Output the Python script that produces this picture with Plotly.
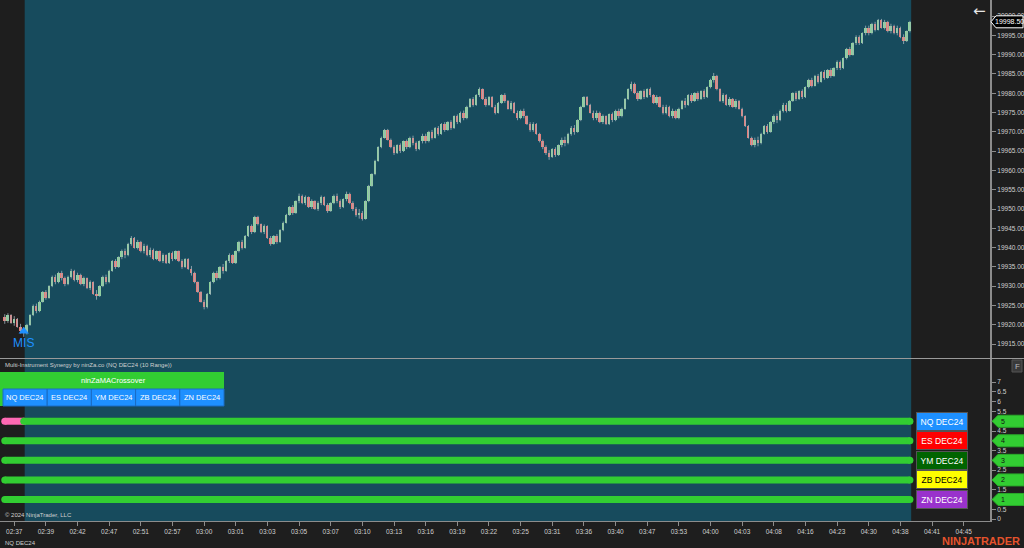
import plotly.graph_objects as go

# ---------------- data ----------------
closes = [
    19921, 19922.5, 19920.5, 19921.5, 19919.5, 19918.5, 19917.75, 19920, 19922.5, 19925,
    19923.5, 19926, 19928.5, 19927, 19930, 19932.5, 19931, 19933.5, 19932, 19930.5,
    19932.5, 19934, 19931.5, 19933, 19930.5, 19932, 19929.5, 19931, 19928, 19927.5,
    19930, 19932.5, 19931, 19934, 19936.5, 19935, 19937.5, 19939, 19938, 19941,
    19942.5, 19940, 19941.5, 19939, 19940.5, 19938, 19939.5, 19937, 19939, 19936.5,
    19938, 19936, 19938.5, 19937, 19939, 19936.5, 19935, 19937, 19934.5, 19933.5,
    19931, 19928.5, 19926, 19924.5, 19928, 19931, 19933.5, 19932, 19935, 19934,
    19936.5, 19938, 19936, 19939, 19941.5, 19940, 19943, 19945.5, 19944, 19948,
    19946, 19944, 19945.5, 19942.5, 19941, 19943, 19941.5, 19944.5, 19946.5, 19948.5,
    19950.5, 19949, 19952, 19953.5, 19951.5, 19953, 19950.5, 19952, 19950, 19951.5,
    19953, 19951, 19949.5, 19951.5, 19953.5, 19952, 19950.5, 19952.5, 19954, 19951.5,
    19950, 19948.5, 19949, 19947.5, 19952, 19956, 19959, 19962.5, 19966, 19968.5,
    19970.5, 19968, 19966, 19964.5, 19966.5, 19965, 19967.5, 19966, 19968.5, 19967,
    19965.5, 19967.5, 19969, 19967.5, 19970, 19968.5, 19971, 19969.5, 19972, 19970.5,
    19972.5, 19971, 19974, 19972.5, 19975, 19973.5, 19976.5, 19978.5, 19977, 19979.5,
    19981, 19978.5, 19977, 19979, 19976.5, 19975, 19977.5, 19979.5, 19978, 19976,
    19977.5, 19975, 19973.5, 19975.5, 19974, 19972, 19970.5, 19972, 19969.5, 19967.5,
    19966, 19964.5, 19963.5, 19965.5, 19964, 19966.5, 19968, 19967, 19969.5, 19971,
    19970, 19973, 19976.5, 19979, 19977, 19975, 19973.5, 19975, 19972.5, 19974,
    19972, 19974.5, 19973, 19975.5, 19974, 19976, 19978.5, 19981, 19982.5, 19980,
    19978.5, 19980.5, 19979, 19981, 19979.5, 19977.5, 19979, 19976.5, 19975, 19976.5,
    19974, 19975.5, 19973.5, 19976, 19978, 19977, 19979.5, 19978, 19980, 19978.5,
    19980.5, 19979, 19981.5, 19983.5, 19984.5, 19981, 19978, 19979.5, 19977, 19978.5,
    19976.5, 19978, 19976, 19974, 19971.5, 19968.5, 19966.5, 19968, 19967, 19969.5,
    19971.5, 19970, 19972.5, 19974, 19973, 19975.5, 19977, 19975.5, 19978, 19980,
    19978.5, 19980.5, 19979, 19981.5, 19983.5, 19982, 19984.5, 19983, 19985.5, 19984,
    19986, 19984.5, 19986.5, 19988, 19986.5, 19989, 19991.5, 19990, 19993, 19994.5,
    19993, 19995.5, 19997, 19995.5, 19998, 19996.5, 19999, 19997, 19998.5, 19996,
    19997.5, 19995.5, 19997, 19994.5, 19993.5, 19996, 19998.5,
]
first_open = 19922.0
bar_range = 2.5  # 10-tick range bars (NQ tick = 0.25)

time_labels = ["02:37", "02:39", "02:42", "02:47", "02:51", "02:57", "03:00", "03:01",
               "03:03", "03:05", "03:07", "03:10", "03:13", "03:16", "03:19", "03:22",
               "03:25", "03:31", "03:36", "03:40", "03:47", "03:53", "04:00", "04:03",
               "04:08", "04:16", "04:23", "04:30", "04:38", "04:41", "04:45"]
time_label_idx = [3 + 10 * k for k in range(len(time_labels))]

price_ticks = [19915 + 5 * k for k in range(18)]
panel_ticks = [0.5 * k for k in range(15)]

instruments = ["NQ DEC24", "ES DEC24", "YM DEC24", "ZB DEC24", "ZN DEC24"]
levels = [5, 4, 3, 2, 1]
inst_colors = ["#1e90ff", "#ff0000", "#006400", "#ffff00", "#9932cc"]
inst_text_colors = ["white", "white", "white", "black", "white"]
pink_until_bar = 6       # first bars of the NQ line are pink (bearish state)

signal_idx = [6]
signal_price = [19918.3]
signal_text = ["MIS"]

session_start, session_end = 6.3, 286.4

# ---------------- derived bars ----------------
n = len(closes)
idx = list(range(n))
opens = [first_open] + closes[:-1]
highs, lows = [], []
for o, c in zip(opens, closes):
    lo, hi = min(o, c), max(o, c)
    extra = max(bar_range - (hi - lo), 0.5)
    highs.append(hi + extra / 2)
    lows.append(lo - extra / 2)

# ---------------- geometry helpers ----------------
PW, PH = 990, 521  # plot area pixels (margin l=0, r=34, t=0, b=27)


def pxx(x):
    return x / PW


def pxy(y):
    return (PH - y) / PH


BG = "#1e1e1e"
TEAL = "#174b5d"
AXIS = "#8c8c8c"
TXT = "#d0d0d0"
FONT = "Liberation Sans Narrow, Liberation Sans, Arial, sans-serif"

fig = go.Figure()

# wicks
wx, wy = [], []
for i in idx:
    wx += [i, i, None]
    wy += [lows[i], highs[i], None]
fig.add_trace(go.Scatter(x=wx, y=wy, mode="lines", line=dict(color="rgba(160,178,188,0.8)", width=1),
                         hoverinfo="skip", showlegend=False, xaxis="x", yaxis="y"))
# bodies
body_base = [min(o, c) for o, c in zip(opens, closes)]
body_h = [max(abs(c - o), 0.3) for o, c in zip(opens, closes)]
body_col = ["#8fd49c" if c >= o else "#e77c78" for o, c in zip(opens, closes)]
fig.add_trace(go.Bar(x=idx, y=body_h, base=body_base, width=0.62, marker=dict(color=body_col, line=dict(width=0)),
                     hoverinfo="skip", showlegend=False, xaxis="x", yaxis="y"))

# signal
fig.add_trace(go.Scatter(x=signal_idx, y=signal_price, mode="markers+text", text=signal_text,
                         textposition="bottom center",
                         textfont=dict(color="#1e90ff", size=12, family="Liberation Sans, Arial"),
                         marker=dict(symbol="triangle-up", size=9, color="#1e90ff"),
                         hoverinfo="skip", showlegend=False, xaxis="x", yaxis="y"))

# lower panel lines
for k, (name, lvl) in enumerate(zip(instruments, levels)):
    start = pink_until_bar if k == 0 else 0
    if k == 0:
        fig.add_trace(go.Scatter(x=[0, pink_until_bar], y=[lvl, lvl], mode="lines+markers",
                                 line=dict(color="#ff69b4", width=7), marker=dict(size=7, color="#ff69b4"),
                                 hoverinfo="skip", showlegend=False, xaxis="x2", yaxis="y2"))
    fig.add_trace(go.Scatter(x=[start, n - 1], y=[lvl, lvl], mode="lines+markers",
                             line=dict(color="#32cd32", width=7), marker=dict(size=7, color="#32cd32"),
                             hoverinfo="skip", showlegend=False, xaxis="x2", yaxis="y2"))

shapes = []
annotations = []

# teal session background
shapes.append(dict(type="rect", xref="x", yref="paper", x0=session_start, x1=session_end, y0=0, y1=1,
                   fillcolor=TEAL, line=dict(width=0), layer="below"))
# panel separator
shapes.append(dict(type="line", xref="paper", yref="paper", x0=0, x1=1.0343, y0=pxy(358.5), y1=pxy(358.5),
                   line=dict(color="#9a9a9a", width=1)))

# price flag (last close)
last = closes[-1]
h_pts = 6 * (20004.15 - 19911.4) / 358
shapes.append(dict(type="path", xref="paper", yref="y",
                   path=f"M {pxx(991)},{last} L {pxx(996)},{last + h_pts} L {pxx(1023)},{last + h_pts} "
                        f"L {pxx(1023)},{last - h_pts} L {pxx(996)},{last - h_pts} Z",
                   fillcolor="black", line=dict(color="white", width=1), layer="above"))
annotations.append(dict(xref="paper", yref="y", x=pxx(1009.5), y=last, text=f"{last:.2f}", showarrow=False,
                        font=dict(color="white", size=7, family=FONT), xanchor="center", yanchor="middle"))

# right flags in lower panel
h_u = 6 * 8.28 / 162
for lvl in levels:
    shapes.append(dict(type="path", xref="paper", yref="y2",
                       path=f"M {pxx(992)},{lvl} L {pxx(998)},{lvl + h_u} L {pxx(1024)},{lvl + h_u} "
                            f"L {pxx(1024)},{lvl - h_u} L {pxx(998)},{lvl - h_u} Z",
                       fillcolor="#32cd32", line=dict(color="#2aa82a", width=1), layer="above"))
    annotations.append(dict(xref="paper", yref="y2", x=pxx(999), y=lvl, text=f"{lvl}", showarrow=False,
                            font=dict(color="#111111", size=7, family=FONT), xanchor="left", yanchor="middle"))

# instrument labels
for name, lvl, col, tcol in zip(instruments, levels, inst_colors, inst_text_colors):
    annotations.append(dict(xref="paper", yref="y2", x=pxx(942), y=lvl, text=name, showarrow=False,
                            font=dict(color=tcol, size=8.5, family="Liberation Sans, Arial"),
                            bgcolor=col, bordercolor="#555555", borderwidth=1, width=48, height=15,
                            xanchor="center", yanchor="middle"))

# table
shapes.append(dict(type="rect", xref="paper", yref="paper", x0=pxx(0), x1=pxx(3), y0=pxy(406), y1=pxy(372),
                   fillcolor="#32cd32", line=dict(width=0)))
shapes.append(dict(type="rect", xref="paper", yref="paper", x0=pxx(3), x1=pxx(224), y0=pxy(389), y1=pxy(372),
                   fillcolor="#32cd32", line=dict(width=0)))
annotations.append(dict(xref="paper", yref="paper", x=pxx(113.5), y=pxy(380.5), text="ninZaMACrossover",
                        showarrow=False, font=dict(color="white", size=7.5, family="Liberation Sans, Arial"),
                        xanchor="center", yanchor="middle"))
cw = (224 - 3) / len(instruments)
for k, name in enumerate(instruments):
    x0 = 3 + k * cw
    shapes.append(dict(type="rect", xref="paper", yref="paper", x0=pxx(x0), x1=pxx(x0 + cw),
                       y0=pxy(406), y1=pxy(389), fillcolor="#1e90ff", line=dict(color="#1a6cc4", width=1)))
    annotations.append(dict(xref="paper", yref="paper", x=pxx(x0 + cw / 2), y=pxy(397.5), text=name,
                            showarrow=False, font=dict(color="white", size=7.5, family="Liberation Sans, Arial"),
                            xanchor="center", yanchor="middle"))

# F button
shapes.append(dict(type="rect", xref="paper", yref="paper", x0=pxx(1012), x1=pxx(1022), y0=pxy(372), y1=pxy(360),
                   fillcolor="#3a3a3a", line=dict(color="#555555", width=1)))
annotations.append(dict(xref="paper", yref="paper", x=pxx(1017), y=pxy(366), text="F", showarrow=False,
                        font=dict(color="#bbbbbb", size=8, family="Liberation Sans, Arial"),
                        xanchor="center", yanchor="middle"))

# texts
annotations += [
    dict(xref="paper", yref="paper", x=pxx(3), y=pxy(365), text="Multi-Instrument Synergy by ninZa.co (NQ DEC24 (10 Range))",
         showarrow=False, font=dict(color=TXT, size=6, family=FONT), xanchor="left", yanchor="middle"),
    dict(xref="paper", yref="paper", x=pxx(3), y=pxy(515), text="© 2024 NinjaTrader, LLC",
         showarrow=False, font=dict(color=TXT, size=6, family=FONT), xanchor="left", yanchor="middle"),
    dict(xref="paper", yref="paper", x=pxx(3), y=pxy(543), text="NQ DEC24",
         showarrow=False, font=dict(color=TXT, size=6, family=FONT), xanchor="left", yanchor="middle"),
    dict(xref="paper", yref="paper", x=pxx(1022), y=pxy(541), text="<b>NINJATRADER</b>",
         showarrow=False, font=dict(color="#e5532c", size=11, family="Liberation Sans, Arial"),
         xanchor="right", yanchor="middle"),
    dict(xref="paper", yref="paper", x=pxx(979), y=pxy(11), text="←",
         showarrow=False, font=dict(color="#e6e6e6", size=15, family="DejaVu Sans"),
         xanchor="center", yanchor="middle"),
]

xr = [-1.5, 311.3]
fig.update_layout(
    width=1024, height=548,
    margin=dict(l=0, r=34, t=0, b=27),
    paper_bgcolor=BG, plot_bgcolor=BG,
    barmode="overlay", bargap=0,
    showlegend=False,
    xaxis=dict(domain=[0, 1], range=xr, anchor="y", showticklabels=False, showgrid=False, zeroline=False,
               ticks="", showline=False, fixedrange=True),
    yaxis=dict(domain=[pxy(358), 1], range=[19911.4, 20004.15], side="right", anchor="x",
               tickvals=price_ticks, ticktext=[f"{v:.2f}" for v in price_ticks],
               tickfont=dict(color=TXT, size=6.5, family=FONT), ticks="outside", ticklen=4, tickcolor=AXIS,
               showline=True, linecolor=AXIS, linewidth=2, showgrid=False, zeroline=False),
    xaxis2=dict(domain=[0, 1], range=xr, anchor="y2", matches="x",
                tickvals=time_label_idx, ticktext=time_labels,
                tickfont=dict(color=TXT, size=6.5, family=FONT), ticks="outside", ticklen=4, tickcolor=AXIS,
                showline=True, linecolor=AXIS, linewidth=1, showgrid=False, zeroline=False),
    yaxis2=dict(domain=[0, pxy(359)], range=[-0.1, 8.18], side="right", anchor="x2",
                tickvals=panel_ticks, ticktext=[f"{v:g}" for v in panel_ticks],
                tickfont=dict(color=TXT, size=6.5, family=FONT), ticks="outside", ticklen=4, tickcolor=AXIS,
                showline=True, linecolor=AXIS, linewidth=2, showgrid=False, zeroline=False),
    shapes=shapes,
    annotations=annotations,
)

fig.write_html("out.html", config={"displayModeBar": False},
               post_script="document.body.style.margin='0';document.body.style.background='#1e1e1e';document.body.style.overflow='hidden';")
